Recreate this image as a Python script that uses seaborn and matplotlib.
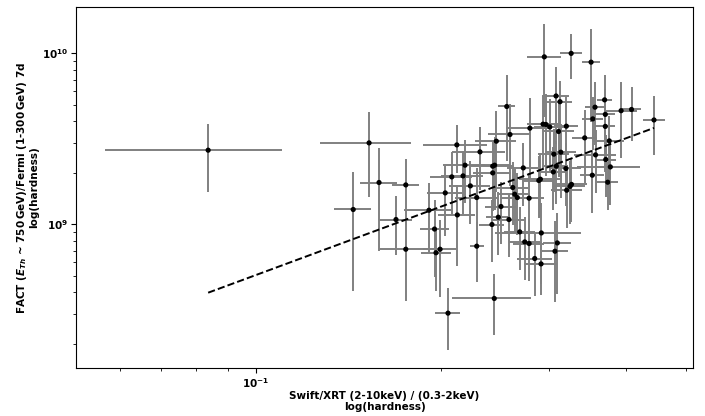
import numpy as np
import pandas as pd
import matplotlib
matplotlib.use('Agg')
import matplotlib.pyplot as plt
import seaborn as sns

# Swift/XRT hardness (2-10keV / 0.3-2keV) with its error
xrt_hardness = [0.0836, 0.1439, 0.1527, 0.1585, 0.1752, 0.1689, 0.1752, 0.1911, 0.1951, 0.1992,
                0.1962, 0.2031, 0.2081, 0.2121, 0.2125, 0.2171, 0.2187, 0.2231, 0.2285, 0.2285,
                0.2313, 0.2052, 0.2440, 0.2419, 0.2477, 0.2502, 0.2578, 0.2684, 0.2910, 0.2735,
                0.2780, 0.3090, 0.3063, 0.2839, 0.2907, 0.2426, 0.2443, 0.2426, 0.2459, 0.2588,
                0.2557, 0.2788, 0.2720, 0.2615, 0.2634, 0.2660, 0.2780, 0.2900, 0.2883, 0.2943,
                0.3254, 0.3506, 0.3075, 0.3121, 0.3688, 0.3558, 0.3528, 0.3698, 0.3923, 0.4079,
                0.4437, 0.2929, 0.2961, 0.3003, 0.3196, 0.3104, 0.3698, 0.3423, 0.3753, 0.3565,
                0.3050, 0.3130, 0.3078, 0.3190, 0.3044, 0.3704, 0.3768, 0.3522, 0.3731, 0.3258,
                0.3240, 0.3200]
xrt_err = [0.0267, 0.0099, 0.0258, 0.0109, 0.0090, 0.0104, 0.0165, 0.0172, 0.0105, 0.0123,
           0.0110, 0.0133, 0.0162, 0.0252, 0.0148, 0.0169, 0.0170, 0.0173, 0.0178, 0.0061,
           0.0227, 0.0094, 0.0356, 0.0111, 0.0114, 0.0145, 0.0150, 0.0156, 0.0466, 0.0159,
           0.0161, 0.0166, 0.0153, 0.0187, 0.0179, 0.0188, 0.0142, 0.0169, 0.0191, 0.0201,
           0.0081, 0.0239, 0.0158, 0.0152, 0.0153, 0.0154, 0.0161, 0.0225, 0.0167, 0.0185,
           0.0133, 0.0120, 0.0157, 0.0143, 0.0102, 0.0135, 0.0134, 0.0141, 0.0237, 0.0155,
           0.0186, 0.0170, 0.0136, 0.0174, 0.0147, 0.0180, 0.0141, 0.0157, 0.0218, 0.0277,
           0.0177, 0.0182, 0.0141, 0.0185, 0.0140, 0.0141, 0.0448, 0.0162, 0.0142, 0.0189,
           0.0188, 0.0186]

# FACT / Fermi 7d hardness with its error
fact_hardness = [2.709e9, 1.219e9, 2.988e9, 1.753e9, 1.697e9, 1.065e9, 7.14e8, 1.207e9, 9.37e8, 7.14e8,
                 6.81e8, 1.524e9, 1.891e9, 2.909e9, 1.133e9, 1.917e9, 2.213e9, 1.675e9, 1.432e9, 7.44e8,
                 2.648e9, 3.02e8, 3.68e8, 9.96e8, 1.099e9, 1.269e9, 1.065e9, 9.02e8, 8.89e8, 7.88e8,
                 7.71e8, 7.77e8, 6.95e8, 6.30e8, 5.86e8, 2.184e9, 2.213e9, 1.995e9, 3.058e9, 3.346e9,
                 4.878e9, 3.643e9, 2.134e9, 1.639e9, 1.497e9, 1.432e9, 1.419e9, 1.833e9, 1.801e9, 9.515e9,
                 9.97e9, 8.86e9, 5.62e9, 5.204e9, 5.333e9, 4.832e9, 4.129e9, 4.386e9, 4.609e9, 4.686e9,
                 4.069e9, 3.845e9, 3.829e9, 3.707e9, 3.742e9, 3.484e9, 3.732e9, 3.197e9, 3.07e9, 2.543e9,
                 2.567e9, 2.636e9, 2.184e9, 2.117e9, 2.022e9, 2.389e9, 2.163e9, 1.934e9, 1.76e9, 1.709e9,
                 1.664e9, 1.58e9]
fact_err = [1.17e9, 8.14e8, 1.548e9, 1.055e9, 7.01e8, 4.06e8, 3.56e8, 5.29e8, 4.48e8, 3.41e8,
            2.72e8, 6.68e8, 7.56e8, 9.14e8, 5.64e8, 7.67e8, 8.85e8, 6.70e8, 7.13e8, 2.83e8,
            1.059e9, 1.19e8, 1.42e8, 3.98e8, 4.40e8, 5.08e8, 4.26e8, 3.61e8, 4.43e8, 3.15e8,
            3.08e8, 3.87e8, 3.46e8, 2.52e8, 2.02e8, 8.74e8, 1.01e9, 8.0e8, 1.52e9, 1.67e9,
            2.53e9, 1.81e9, 8.54e8, 6.56e8, 5.99e8, 5.73e8, 5.68e8, 7.33e8, 7.2e8, 5.26e9,
            2.9e9, 4.9e9, 2.69e9, 1.63e9, 2.1e9, 1.93e9, 1.42e9, 1.75e9, 2.17e9, 1.62e9,
            1.53e9, 1.76e9, 1.91e9, 1.7e9, 1.86e9, 1.6e9, 1.71e9, 1.46e9, 1.23e9, 1.02e9,
            1.03e9, 1.21e9, 8.74e8, 8.47e8, 8.1e8, 9.56e8, 8.65e8, 7.74e8, 5.44e8, 6.84e8,
            6.66e8, 6.32e8]

# power law fit (dashed line): log10(y) = fit_offset + fit_slope * log10(x)
fit_slope = 1.329
fit_offset = 10.032

df = pd.DataFrame({'xrt': xrt_hardness, 'xrt_err': xrt_err,
                   'fact': fact_hardness, 'fact_err': fact_err})

sns.set_style('ticks', {'axes.edgecolor': 'black', 'text.color': 'black',
                        'axes.labelcolor': 'black', 'xtick.color': 'black',
                        'ytick.color': 'black'})
plt.rcParams['font.family'] = ['DejaVu Sans']
plt.rcParams['font.weight'] = 'bold'
plt.rcParams['axes.labelweight'] = 'bold'
plt.rcParams['mathtext.fontset'] = 'custom'
plt.rcParams['mathtext.rm'] = 'DejaVu Sans:bold'
plt.rcParams['mathtext.it'] = 'DejaVu Sans:italic:bold'
plt.rcParams['mathtext.bf'] = 'DejaVu Sans:bold'

fig = plt.figure(figsize=(7.05, 4.16), dpi=100)
ax = fig.add_axes([0.108, 0.115, 0.875, 0.868])

ax.errorbar(df['xrt'], df['fact'], xerr=df['xrt_err'], yerr=df['fact_err'],
            fmt='none', ecolor='gray', elinewidth=1.4, zorder=1)
sns.scatterplot(data=df, x='xrt', y='fact', color='black', s=14, edgecolor='none',
                ax=ax, zorder=3)

xfit = np.geomspace(df['xrt'].min(), df['xrt'].max(), 50)
yfit = 10 ** (fit_offset + fit_slope * np.log10(xfit))
sns.lineplot(x=xfit, y=yfit, color='black', linestyle='--', linewidth=1.4, ax=ax, zorder=2)

ax.set_xscale('log')
ax.set_yscale('log')
ax.set_xlim(0.0510, 0.5135)
ax.set_ylim(1.44e8, 1.86e10)
ax.tick_params(labelsize=7.5, pad=2)
ax.set_xlabel('Swift/XRT (2-10keV) / (0.3-2keV)\nlog(hardness)', fontsize=7.5,
              fontweight='bold', labelpad=1, linespacing=1.1)
ax.set_ylabel('FACT ($E_{Th}$ ~ 750$\\,$GeV)/Fermi (1-300$\\,$GeV) 7d\nlog(hardness)',
              fontsize=7.5, fontweight='bold', labelpad=2, linespacing=1.1)

fig.savefig('out.png', dpi=100)
